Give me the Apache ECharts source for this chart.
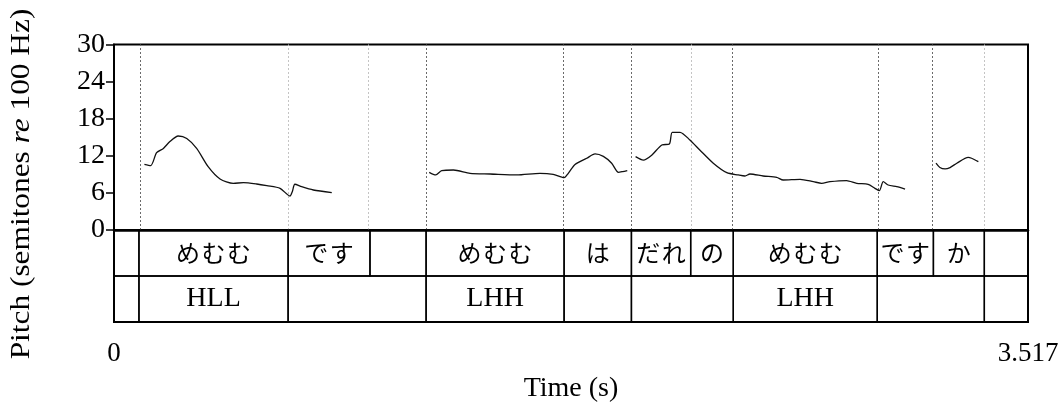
<!DOCTYPE html>
<html>
<head>
<meta charset="utf-8">
<script src="https://cdn.jsdelivr.net/npm/echarts@6/dist/echarts.min.js"></script>
<style>
  html, body { margin: 0; padding: 0; background: #fff; }
  #chart { width: 1062px; height: 409px; }
</style>
</head>
<body>
<div id="chart"></div>
<script>
// Utterance length (s) and pitch scale (semitones re 100 Hz)
const DURATION = 3.517;
const PITCH_MIN = 0;
const PITCH_MAX = 30;
const PITCH_STEP = 6;

// Pitch track, one array per voiced stretch: [time (s), semitones]
const pitchSeg1 = [
  [0.117, 10.6], [0.141, 10.4], [0.164, 12.5], [0.190, 13.2], [0.215, 14.3],
  [0.247, 15.2], [0.280, 14.8], [0.318, 13.2], [0.363, 10.2], [0.408, 8.25],
  [0.459, 7.55], [0.498, 7.65], [0.549, 7.44], [0.588, 7.17], [0.639, 6.74],
  [0.677, 5.5], [0.686, 6.2], [0.696, 7.4], [0.722, 7.0], [0.767, 6.47], [0.838, 6.04]
];
const pitchSeg2 = [
  [1.213, 9.33], [1.238, 8.9], [1.261, 9.6], [1.306, 9.7], [1.370, 9.17],
  [1.447, 9.06], [1.550, 8.9], [1.639, 9.17], [1.690, 9.0], [1.732, 8.46],
  [1.748, 9.17], [1.774, 10.6], [1.819, 11.6], [1.851, 12.3], [1.883, 11.9],
  [1.915, 10.8], [1.941, 9.33], [1.957, 9.44], [1.975, 9.6]
];
const pitchSeg3 = [
  [2.007, 11.86], [2.037, 11.3], [2.069, 12.1], [2.108, 13.75], [2.137, 13.9],
  [2.148, 15.8], [2.178, 15.8], [2.216, 14.56], [2.255, 12.9], [2.306, 10.8],
  [2.358, 9.27], [2.402, 8.9], [2.428, 8.73], [2.447, 9.06], [2.498, 8.73],
  [2.550, 8.52], [2.575, 8.09], [2.640, 8.2], [2.691, 7.82], [2.723, 7.55],
  [2.755, 7.82], [2.819, 8.0], [2.858, 7.55], [2.902, 7.39], [2.928, 6.74],
  [2.945, 6.36], [2.960, 7.82], [2.979, 7.28], [3.012, 7.0], [3.044, 6.63]
];
const pitchSeg4 = [
  [3.163, 10.8], [3.178, 10.1], [3.198, 9.87], [3.217, 10.1], [3.243, 10.8],
  [3.287, 11.75], [3.300, 11.6], [3.326, 11.05]
];

// Word tier: interval boundaries (s) and labels
const wordBounds = [0, 0.096, 0.670, 0.985, 1.201, 1.732, 1.991, 2.219, 2.383, 2.937, 3.153, 3.349, DURATION];
const wordLabels = ['', 'めむむ', 'です', '', 'めむむ', 'は', 'だれ', 'の', 'めむむ', 'です', 'か', ''];

// Accent tier: interval boundaries (s) and labels
const accentBounds = [0, 0.096, 0.670, 1.201, 1.732, 1.991, 2.383, 2.937, 3.349, DURATION];
const accentLabels = ['', 'HLL', '', 'LHH', '', '', 'LHH', '', ''];

// Guide lines carried up into the pitch panel
const strongGuides = [0.096, 1.201, 1.732, 1.991, 2.383, 2.937, 3.153];
const faintGuides = [0.670, 0.985, 2.219, 3.349];

const SERIF = '"Liberation Serif", "Times New Roman", serif';
const JP = '"Noto Sans CJK JP", sans-serif';

// Flatten both tiers into interval records for the custom series
function tierIntervals(bounds, labels, row, font) {
  const out = [];
  for (let i = 0; i < labels.length; i++) {
    out.push({ value: [bounds[i], bounds[i + 1], row], label: labels[i], font: font });
  }
  return out;
}
const tierItems = tierIntervals(wordBounds, wordLabels, 0, JP)
  .concat(tierIntervals(accentBounds, accentLabels, 1, SERIF));

const chart = echarts.init(document.getElementById('chart'), null, { renderer: 'canvas' });

const pitchLine = (data) => ({
  type: 'line',
  xAxisIndex: 0,
  yAxisIndex: 0,
  data: data,
  showSymbol: false,
  symbol: 'none',
  smooth: 0.25,
  lineStyle: { color: '#111', width: 1.3 },
  z: 5
});

const guideLines = strongGuides.map(t => ({ xAxis: t, lineStyle: { color: '#6a6a6a', width: 1, type: [2, 2] } }))
  .concat(faintGuides.map(t => ({ xAxis: t, lineStyle: { color: '#c4c4c4', width: 1, type: [2, 2] } })));

const option = {
  animation: false,
  backgroundColor: '#fff',
  grid: [
    { left: 114, width: 914, top: 44.5, height: 185.5, show: true, borderColor: '#000', borderWidth: 2, backgroundColor: 'transparent' },
    { left: 114, width: 914, top: 230, height: 92, show: true, borderColor: '#000', borderWidth: 2, backgroundColor: 'transparent' }
  ],
  xAxis: [
    { type: 'value', gridIndex: 0, min: 0, max: DURATION, show: false },
    {
      type: 'value', gridIndex: 1, min: 0, max: DURATION, interval: DURATION,
      axisLine: { show: true, lineStyle: { color: '#000', width: 2.5 } },
      axisTick: { show: true, length: 8, lineStyle: { color: '#000', width: 2 } },
      splitLine: { show: false },
      axisLabel: {
        margin: 18, color: '#000', fontSize: 27, fontFamily: SERIF,
        formatter: v => (v === 0 ? '0' : DURATION.toFixed(3))
      },
      name: 'Time (s)', nameLocation: 'middle', nameGap: 53,
      nameTextStyle: { color: '#000', fontSize: 28, fontFamily: SERIF }
    }
  ],
  yAxis: [
    {
      type: 'value', gridIndex: 0, min: PITCH_MIN, max: PITCH_MAX, interval: PITCH_STEP,
      axisLine: { show: true, lineStyle: { color: '#000', width: 2 } },
      axisTick: { show: true, length: 8, lineStyle: { color: '#000', width: 1.5 } },
      splitLine: { show: false },
      axisLabel: { margin: 9, color: '#000', fontSize: 28, fontFamily: SERIF }
    },
    { type: 'value', gridIndex: 1, min: 0, max: 2, inverse: true, show: false }
  ],
  graphic: [{
    type: 'text',
    x: 22, y: 184,
    rotation: Math.PI / 2,
    scaleX: 1.12,
    style: {
      text: '{n|Pitch (semitones }{i|re}{n| 100 Hz)}',
      fill: '#000',
      align: 'center',
      verticalAlign: 'middle',
      fontSize: 28,
      fontFamily: SERIF,
      rich: {
        n: { fontSize: 28, fontFamily: SERIF, fill: '#000' },
        i: { fontSize: 28, fontFamily: SERIF, fontStyle: 'italic', fill: '#000' }
      }
    }
  }],
  series: [
    Object.assign(pitchLine(pitchSeg1), {
      markLine: { silent: true, symbol: ['none', 'none'], label: { show: false }, data: guideLines, z: 1 }
    }),
    pitchLine(pitchSeg2),
    pitchLine(pitchSeg3),
    pitchLine(pitchSeg4),
    {
      type: 'custom',
      xAxisIndex: 1,
      yAxisIndex: 1,
      data: tierItems.map(d => d.value),
      clip: false,
      renderItem: function (params, api) {
        const item = tierItems[params.dataIndex];
        const p0 = api.coord([api.value(0), api.value(2)]);
        const p1 = api.coord([api.value(1), api.value(2) + 1]);
        const children = [{
          type: 'rect',
          shape: { x: p0[0], y: p0[1], width: p1[0] - p0[0], height: p1[1] - p0[1] },
          style: { fill: 'none', stroke: '#000', lineWidth: 1.4 }
        }];
        if (item.label) {
          const isJp = item.font === JP;
          children.push({
            type: 'text',
            style: {
              text: isJp ? item.label.split('').join('\u200A') : item.label,
              x: (p0[0] + p1[0]) / 2,
              y: (p0[1] + p1[1]) / 2,
              align: 'center',
              verticalAlign: 'middle',
              fill: '#000',
              fontSize: isJp ? 24 : 28,
              fontFamily: item.font
            }
          });
        }
        return { type: 'group', children: children };
      }
    }
  ]
};

chart.setOption(option);
</script>
</body>
</html>
